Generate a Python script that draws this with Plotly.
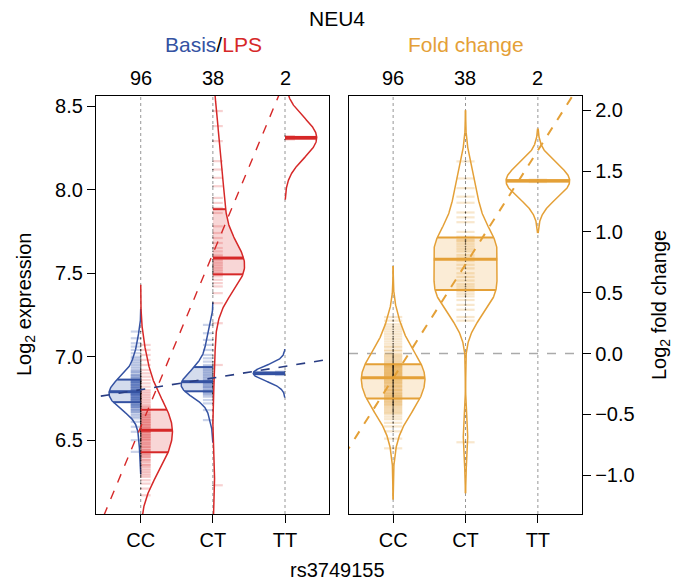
import numpy as np
import plotly.graph_objects as go

# ---------------- data ----------------
genotypes = ["CC", "CT", "TT"]

basis_CC = [6.43, 6.50, 6.55, 6.58, 6.61, 6.63, 6.64, 6.65, 6.66, 6.67,
            6.67, 6.68, 6.68, 6.69, 6.69, 6.70, 6.70, 6.70, 6.71, 6.71,
            6.71, 6.72, 6.72, 6.72, 6.73, 6.73, 6.73, 6.74, 6.74, 6.74,
            6.75, 6.75, 6.75, 6.75, 6.76, 6.76, 6.76, 6.77, 6.77, 6.77,
            6.77, 6.78, 6.78, 6.78, 6.78, 6.78, 6.79, 6.79, 6.79, 6.79,
            6.80, 6.80, 6.80, 6.81, 6.81, 6.81, 6.82, 6.82, 6.82, 6.83,
            6.83, 6.83, 6.84, 6.84, 6.84, 6.85, 6.85, 6.85, 6.85, 6.86,
            6.86, 6.86, 6.87, 6.87, 6.88, 6.88, 6.89, 6.89, 6.90, 6.91,
            6.91, 6.92, 6.93, 6.94, 6.95, 6.96, 6.97, 6.98, 6.99, 7.00,
            7.02, 7.04, 7.06, 7.08, 7.11, 7.15]
basis_CT = [6.62, 6.68, 6.72, 6.74, 6.76, 6.77, 6.78, 6.78, 6.79, 6.79,
            6.80, 6.81, 6.82, 6.82, 6.83, 6.84, 6.84, 6.85, 6.85, 6.85,
            6.86, 6.87, 6.88, 6.89, 6.90, 6.91, 6.92, 6.93, 6.94, 6.95,
            6.97, 6.99, 7.01, 7.04, 7.07, 7.10, 7.14, 7.19]
basis_TT = [6.89, 6.91]

lps_CC = [6.17, 6.21, 6.24, 6.26, 6.28, 6.29, 6.30, 6.31, 6.32, 6.33,
          6.34, 6.35, 6.35, 6.36, 6.37, 6.38, 6.38, 6.39, 6.40, 6.40,
          6.41, 6.41, 6.42, 6.42, 6.43, 6.44, 6.44, 6.45, 6.46, 6.46,
          6.47, 6.48, 6.48, 6.49, 6.50, 6.50, 6.51, 6.51, 6.52, 6.52,
          6.53, 6.53, 6.54, 6.54, 6.55, 6.55, 6.55, 6.56, 6.56, 6.57,
          6.57, 6.58, 6.58, 6.59, 6.59, 6.60, 6.60, 6.61, 6.61, 6.62,
          6.62, 6.63, 6.63, 6.64, 6.64, 6.65, 6.65, 6.66, 6.66, 6.67,
          6.68, 6.68, 6.69, 6.70, 6.70, 6.71, 6.72, 6.73, 6.74, 6.75,
          6.76, 6.77, 6.78, 6.79, 6.80, 6.82, 6.84, 6.86, 6.88, 6.90,
          6.92, 6.95, 6.98, 7.01, 7.04, 7.07]
lps_CT = [6.23, 6.95, 7.20, 7.32, 7.38, 7.42, 7.44, 7.46, 7.48, 7.49,
          7.50, 7.51, 7.52, 7.53, 7.54, 7.55, 7.56, 7.57, 7.58, 7.60,
          7.61, 7.63, 7.65, 7.68, 7.71, 7.74, 7.78, 7.86, 7.89, 7.92,
          7.95, 8.02, 8.07, 8.12, 8.17, 8.29, 8.38, 8.47]
lps_TT = [8.30, 8.32]

fc_CC = [-0.78, -0.70, -0.64, -0.60, -0.57, -0.54, -0.52, -0.50, -0.49, -0.48,
         -0.47, -0.46, -0.45, -0.44, -0.43, -0.42, -0.42, -0.41, -0.40, -0.40,
         -0.39, -0.38, -0.38, -0.37, -0.37, -0.36, -0.35, -0.35, -0.34, -0.33,
         -0.33, -0.32, -0.31, -0.30, -0.30, -0.29, -0.28, -0.27, -0.27, -0.26,
         -0.25, -0.24, -0.24, -0.23, -0.22, -0.22, -0.21, -0.20, -0.20, -0.19,
         -0.19, -0.18, -0.18, -0.17, -0.17, -0.16, -0.16, -0.15, -0.15, -0.14,
         -0.14, -0.13, -0.13, -0.12, -0.12, -0.11, -0.11, -0.10, -0.10, -0.10,
         -0.09, -0.09, -0.08, -0.07, -0.06, -0.05, -0.04, -0.03, -0.02, -0.01,
         0.00, 0.02, 0.03, 0.05, 0.06, 0.08, 0.10, 0.12, 0.14, 0.16,
         0.18, 0.20, 0.22, 0.24, 0.27, 0.30]
fc_CT = [-0.73, 0.27, 0.30, 0.36, 0.40, 0.44, 0.47, 0.49, 0.51, 0.52,
         0.53, 0.55, 0.57, 0.60, 0.63, 0.66, 0.70, 0.73, 0.76, 0.79,
         0.81, 0.84, 0.86, 0.88, 0.90, 0.92, 0.93, 0.94, 0.96, 1.00,
         1.08, 1.12, 1.16, 1.24, 1.29, 1.36, 1.44, 1.58]
fc_TT = [1.41, 1.43]

left_yticks = [6.5, 7.0, 7.5, 8.0, 8.5]
right_yticks = [-1.0, -0.5, 0.0, 0.5, 1.0, 1.5, 2.0]

basis = [basis_CC, basis_CT, basis_TT]
lps = [lps_CC, lps_CT, lps_TT]
fc = [fc_CC, fc_CT, fc_TT]

# ---------------- style ----------------
W, H = 684, 582
FONT = "Liberation Sans, Arial, Helvetica, sans-serif"
BLUE = "rgb(52,82,162)"
BLUE_DARK = "rgb(40,60,130)"
RED = "rgb(214,40,40)"
ORANGE = "rgb(228,160,55)"
BLUE_FILL = "rgba(60,95,175,0.22)"
RED_FILL = "rgba(225,70,70,0.22)"
ORANGE_FILL = "rgba(235,170,70,0.22)"
BLUE_TICK = "rgba(60,95,175,0.28)"
RED_TICK = "rgba(225,70,70,0.25)"
ORANGE_TICK = "rgba(228,160,55,0.25)"
MAXW = 0.44
BW_BASIS, BW_LPS, BW_FC = 0.045, 0.12, 0.14


def px_x(p):
    return p / W


def px_y(p):
    return 1 - p / H


fig = go.Figure()


def kde(vals, bw, cut=3.0, n=400):
    v = np.asarray(vals, float)
    ys = np.linspace(v.min() - cut * bw, v.max() + cut * bw, n)
    d = np.exp(-0.5 * ((ys[:, None] - v[None, :]) / bw) ** 2).sum(axis=1)
    return ys, d / d.max()


def add_bean(vals, pos, side, color, fill, tickcol, bw, xa, ya,
             lw=1.5, ticksize=7.0, tickoff=0.07):
    ys, d = kde(vals, bw)
    w = MAXW * d
    q1, med, q3 = np.percentile(vals, [25, 50, 75])
    inside = (ys > q1) & (ys < q3)
    yb = np.concatenate([[q1], ys[inside], [q3]])
    wb = np.interp(yb, ys, w)
    if side == 0:
        xp = np.concatenate([pos - wb, (pos + wb)[::-1]])
        yp = np.concatenate([yb, yb[::-1]])
    else:
        xp = np.concatenate([pos + side * wb, [pos, pos]])
        yp = np.concatenate([yb, [q3, q1]])
    common = dict(xaxis=xa, yaxis=ya, hoverinfo="skip", showlegend=False)
    fig.add_trace(go.Scatter(x=xp, y=yp, mode="lines", fill="toself",
                             fillcolor=fill, line=dict(width=0), **common))
    # individual sample lines
    xt = [pos + side * tickoff] * len(vals)
    fig.add_trace(go.Scatter(x=xt, y=vals, mode="markers",
                             marker=dict(symbol="line-ew", size=ticksize,
                                         line=dict(color=tickcol, width=2.2)),
                             **common))
    # tiny dots on center line
    fig.add_trace(go.Scatter(x=[pos] * len(vals), y=vals, mode="markers",
                             marker=dict(symbol="circle", size=1.6,
                                         color="rgba(0,0,0,0.55)"),
                             **common))
    # outline
    sides = [-1, 1] if side == 0 else [side]
    for s in sides:
        fig.add_trace(go.Scatter(x=pos + s * w, y=ys, mode="lines",
                                 line=dict(color=color, width=lw), **common))
    # quartile + median lines
    for q, qw in [(q1, 2.0), (q3, 2.0), (med, 3.0)]:
        wq = float(np.interp(q, ys, w))
        if side == 0:
            xs = [pos - wq, pos + wq]
        else:
            xs = [pos, pos + side * wq]
        fig.add_trace(go.Scatter(x=xs, y=[q, q], mode="lines",
                                 line=dict(color=color, width=qw), **common))


for i, g in enumerate(genotypes):
    pos = i + 1
    add_bean(basis[i], pos, -1, BLUE, BLUE_FILL, BLUE_TICK, BW_BASIS, "x", "y")
    add_bean(lps[i], pos, 1, RED, RED_FILL, RED_TICK, BW_LPS, "x", "y")
    add_bean(fc[i], pos, 0, ORANGE, ORANGE_FILL, ORANGE_TICK, BW_FC, "x2", "y2",
             ticksize=13.0, tickoff=0.0)


# regression lines (additive genotype model, fitted on samples)
def fit_line(groups):
    xs = np.concatenate([[k + 1] * len(v) for k, v in enumerate(groups)])
    ys = np.concatenate([np.asarray(v, float) for v in groups])
    b, a = np.polyfit(xs, ys, 1)
    return a, b


xl = np.array([0.2, 3.8])
for groups, col, xa, ya, lw in [(basis, BLUE_DARK, "x", "y", 1.6),
                                (lps, RED, "x", "y", 1.4),
                                (fc, ORANGE, "x2", "y2", 2.0)]:
    a, b = fit_line(groups)
    fig.add_trace(go.Scatter(x=xl, y=a + b * xl, mode="lines",
                             line=dict(color=col, width=lw, dash="dash"),
                             xaxis=xa, yaxis=ya, hoverinfo="skip",
                             showlegend=False))

# ---------------- layout ----------------
L_X0, L_X1, R_X0, R_X1 = 96, 329, 349, 582
Y_TOP, Y_BOT = 96, 514

axis_common = dict(showline=True, linecolor="black", linewidth=1.3,
                   mirror=True, showgrid=False, zeroline=False,
                   ticks="outside", ticklen=8, tickwidth=1.2,
                   tickcolor="black", tickfont=dict(size=20, color="black"))

fig.update_layout(
    width=W, height=H, autosize=False,
    margin=dict(l=0, r=0, t=0, b=0),
    paper_bgcolor="white", plot_bgcolor="white",
    font=dict(family=FONT, size=20, color="black"),
    showlegend=False,
    xaxis=dict(domain=[px_x(L_X0), px_x(L_X1)], range=[0.38, 3.61],
               tickvals=[1, 2, 3], ticktext=genotypes, anchor="y",
               **axis_common),
    yaxis=dict(domain=[px_y(Y_BOT), px_y(Y_TOP)], range=[6.058, 8.56],
               tickvals=left_yticks, tickformat=".1f", anchor="x",
               **axis_common),
    xaxis2=dict(domain=[px_x(R_X0), px_x(R_X1)], range=[0.39, 3.61],
                tickvals=[1, 2, 3], ticktext=genotypes, anchor="y2",
                **axis_common),
    yaxis2=dict(domain=[px_y(Y_BOT), px_y(Y_TOP)], range=[-1.32, 2.118],
                tickvals=right_yticks, tickformat=".1f", anchor="x2",
                side="right", **axis_common),
)

shapes = []
for xr, yr in [("x", "y"), ("x2", "y2")]:
    for p in [1, 2, 3]:
        shapes.append(dict(type="line", xref=xr, yref=yr + " domain",
                           x0=p, x1=p, y0=0, y1=1, layer="below",
                           line=dict(color="rgb(150,150,150)", width=1,
                                     dash="dot")))
shapes.append(dict(type="line", xref="x2 domain", yref="y2", x0=0, x1=1,
                   y0=0, y1=0, layer="below",
                   line=dict(color="rgb(170,170,170)", width=1.3, dash="dash")))
fig.update_layout(shapes=shapes)

ANC = dict(xanchor="center", yanchor="middle", showarrow=False)
ann = []
ann.append(dict(text="NEU4", x=px_x(337), y=px_y(19), xref="paper",
                yref="paper", font=dict(size=21), **ANC))
ann.append(dict(text=f"<span style='color:{BLUE}'>Basis</span>/"
                     f"<span style='color:{RED}'>LPS</span>",
                x=px_x(213), y=px_y(45), xref="paper", yref="paper",
                font=dict(size=21), **ANC))
ann.append(dict(text="Fold change", x=px_x(466), y=px_y(45), xref="paper",
                yref="paper", font=dict(size=21, color=ORANGE), **ANC))
for xr, groups in [("x", basis), ("x2", fc)]:
    for k, v in enumerate(groups):
        ann.append(dict(text=str(len(v)), x=k + 1, y=px_y(78), xref=xr,
                        yref="paper", font=dict(size=20), **ANC))
ann.append(dict(text="rs3749155", x=px_x(337), y=px_y(570), xref="paper",
                yref="paper", font=dict(size=20), **ANC))
ann.append(dict(text="Log<sub>2</sub> expression", x=px_x(25),
                y=px_y(305), xref="paper", yref="paper",
                textangle=-90, font=dict(size=20), **ANC))
ann.append(dict(text="Log<sub>2</sub> fold change", x=px_x(660),
                y=px_y(305), xref="paper", yref="paper",
                textangle=-90, font=dict(size=20), **ANC))
fig.update_layout(annotations=ann)

fig.write_html("out.html", include_plotlyjs=True,
               config={"displayModeBar": False},
               post_script="document.body.style.margin='0';")
